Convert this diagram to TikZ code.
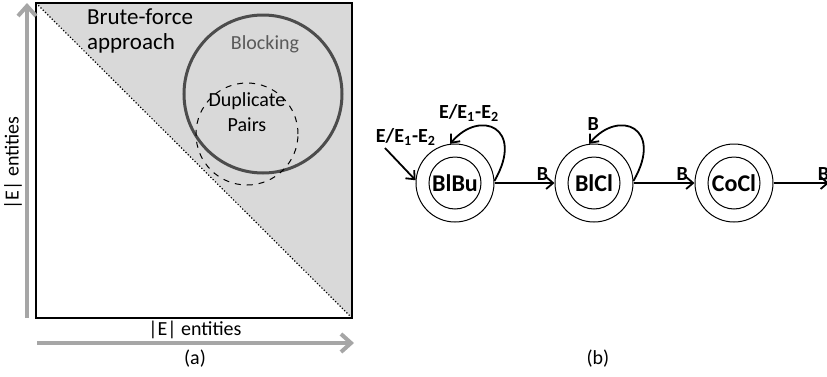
\documentclass[tikz,border=0pt]{standalone}
\usepackage{fontspec}
\setmainfont{Carlito}
\usetikzlibrary{arrows.meta}

\tikzset{
  outerstate/.style={shape=circle,draw=black,line width=0.5pt,minimum size=39pt,inner sep=0pt},
  innerstate/.style={shape=circle,draw=black,line width=0.5pt,minimum size=26pt,inner sep=0pt,font=\fontsize{12}{14}\bfseries},
  trans/.style={-{Straight Barb[length=3.5pt,width=6pt]},line width=0.9pt},
  loopback/.style={out=60,in=50,out distance=31pt,in distance=23pt},
  axisarrow/.style={-{Straight Barb[length=5pt,width=9pt]},line width=2pt,gray!70},
  lbl/.style={font=\fontsize{10}{12}\bfseries,inner sep=1pt}
}

\begin{document}
\begin{tikzpicture}[x=0.5pt,y=-0.5pt]
    \clip (0,0) rectangle (827,376);
    % (a) comparisons
    \coordinate (NW) at (36,3);
    \coordinate (NE) at (352,3);
    \coordinate (SE) at (352,318);
    \fill[gray!30] (NW) -- (NE) -- (SE) -- cycle;
    \draw[line width=1pt] (NW) rectangle (SE);
    \draw[densely dotted,line width=0.6pt] (NW) -- (SE);
    \node[shape=circle,draw=black!70,line width=1.5pt,minimum size=79pt] (Blocking) at (263,94) {};
    \node[shape=circle,draw=black,dashed,line width=0.5pt,minimum size=51pt] (Duplicates) at (247,134) {};
    \node[align=left,anchor=west,font=\fontsize{11.5}{12.5}\selectfont] (Brute force) at (80,31) {Brute-force\\approach};
    \node[text=black!65] (Blocking label) at (265,44) {Blocking};
    \node[align=center,font=\fontsize{10}{12.5}\selectfont] (Duplicate Pairs) at (247,112) {Duplicate\\Pairs};
    \node (x label) at (195,330) {|E| entities};
    \node[rotate=90] (y label) at (13,163) {|E| entities};
    \node (a) at (195,359) {(a)};

    \coordinate (x start) at (37,343);
    \coordinate (x end) at (354,343);
    \coordinate (y start) at (27,318);
    \coordinate (y end) at (27,3);
    \draw [axisarrow] (x start) -- (x end);
    \draw [axisarrow] (y start) -- (y end);

    % (b) states
    \node[outerstate] (BlBu) at (455,183) {};
    \node[innerstate] (BlBu inner) at (BlBu) {BlBu};
    \node[outerstate] (BlCl) at (594,183) {};
    \node[innerstate] (BlCl inner) at (BlCl) {BlCl};
    \node[outerstate] (CoCl) at (734,183) {};
    \node[innerstate] (CoCl inner) at (CoCl) {CoCl};
    \coordinate (Start) at (385,148);
    \coordinate (End) at (829,183);
    \node (b) at (598,359) {(b)};

    \path [trans] (Start) edge node[lbl,pos=0,anchor=south,xshift=10.5pt] {E/E\textsubscript{1}-E\textsubscript{2}} (BlBu.176);
    \path [trans] (BlBu.3) edge[loopback] node[lbl,pos=0.8,above,yshift=2.5pt] {E/E\textsubscript{1}-E\textsubscript{2}} (BlBu.97);
    \path [trans] (BlBu) edge node[lbl,above,pos=0.8] {B} (BlCl);
    \path [trans] (BlCl.3) edge[loopback] node[lbl,pos=1,above,xshift=2pt,yshift=5pt] {B} (BlCl.97);
    \path [trans] (BlCl) edge node[lbl,above,pos=0.8] {B} (CoCl);
    \path [trans] (CoCl) edge node[lbl,above,pos=0.9] {B} (End);
\end{tikzpicture}
\end{document}
